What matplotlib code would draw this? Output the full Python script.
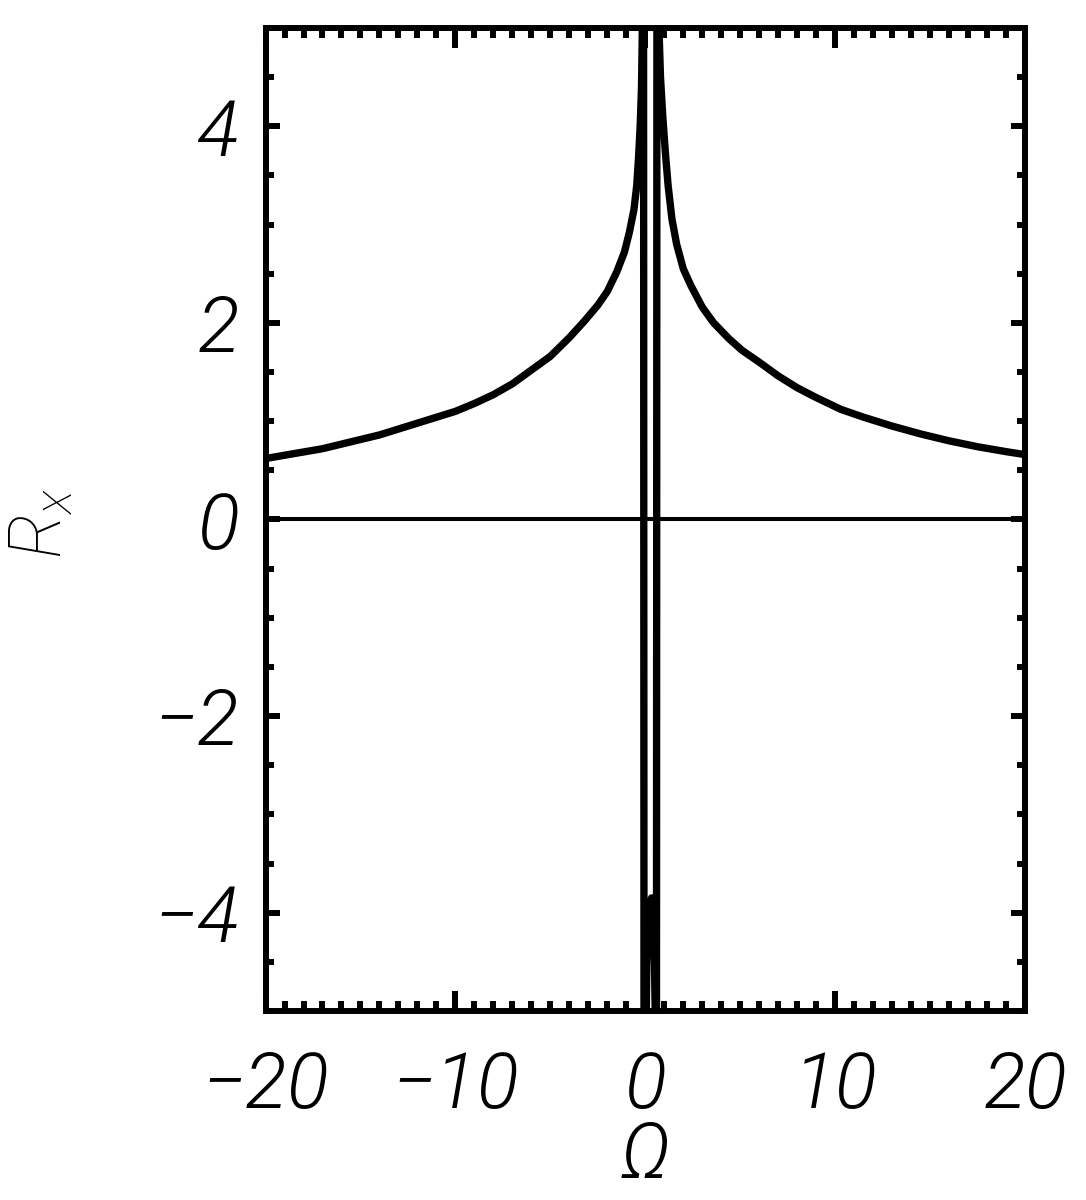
import matplotlib
matplotlib.use("Agg")
import matplotlib.pyplot as plt
from matplotlib.ticker import MultipleLocator, FixedLocator

# ---- data ----
omega = [-20, -18.5, -17, -15.5, -14, -12.5, -11, -10, -9, -8, -7, -6, -5, -4,
         -3.2, -2.5, -2.0, -1.5, -1.1, -0.84, -0.6, -0.45, -0.35, -0.27, -0.2,
         -0.14, -0.1,
         -0.06, 0.0, 0.08, 0.2, 0.33, 0.45, 0.52, 0.58,
         0.62, 0.66, 0.72, 0.8, 0.92, 1.05, 1.2, 1.4, 1.65, 2.0, 2.4, 3.0, 3.6,
         4.4, 5.1, 6.0, 7.0, 8.0, 9.0, 10.3, 11.5, 13, 14.5, 16, 17.5, 19, 20]
r_x = [0.62, 0.67, 0.72, 0.79, 0.86, 0.95, 1.04, 1.10, 1.18, 1.27, 1.38, 1.52,
       1.66, 1.85, 2.02, 2.18, 2.32, 2.52, 2.72, 2.92, 3.15, 3.40, 3.70, 4.00,
       4.40, 5.20, 9.0,
       -9.0, -6.0, -4.5, -3.95, -3.85, -4.1, -5.0, -9.0,
       9.0, 6.0, 5.0, 4.5, 4.1, 3.75, 3.4, 3.06, 2.8, 2.55, 2.38, 2.16, 2.0,
       1.84, 1.72, 1.6, 1.46, 1.34, 1.24, 1.12, 1.04, 0.95, 0.87, 0.80, 0.74,
       0.69, 0.66]

x_ticks = [-20, -10, 0, 10, 20]
x_ticklabels = ["\u221220", "\u221210", "0", "10", "20"]
y_ticks = [-4, -2, 0, 2, 4]
y_ticklabels = ["\u22124", "\u22122", "0", "2", "4"]
zero_level = 0

FONT = ["Roboto", "DejaVu Sans"]
plt.rcParams["mathtext.fontset"] = "custom"
plt.rcParams["mathtext.it"] = "Roboto:italic:light"
plt.rcParams["mathtext.rm"] = "Roboto:light"

fig = plt.figure(figsize=(10.86, 12), dpi=100)
ax = fig.add_axes([0.2445, 0.1575, 0.6994, 0.8192])

ax.plot(omega, r_x, color="black", lw=5.3, solid_joinstyle="round", zorder=3)
ax.axhline(zero_level, color="black", lw=2.9, zorder=2)

ax.set_xlim(-20, 20)
ax.set_ylim(-5, 5)

ax.xaxis.set_major_locator(FixedLocator(x_ticks))
ax.xaxis.set_minor_locator(MultipleLocator(1))
ax.yaxis.set_major_locator(FixedLocator(y_ticks))
ax.yaxis.set_minor_locator(MultipleLocator(0.5))
ax.set_xticklabels(x_ticklabels)
ax.set_yticklabels(y_ticklabels)

for s in ax.spines.values():
    s.set_linewidth(4.3)

ax.tick_params(axis="both", which="both", direction="in", top=True, right=True,
               width=4.3, color="black")
ax.tick_params(axis="x", which="major", length=14.4, pad=28)
ax.tick_params(axis="x", which="minor", length=7.2)
ax.tick_params(axis="y", which="major", length=10, pad=19)
ax.tick_params(axis="y", which="minor", length=5.8)

for lab in ax.get_xticklabels() + ax.get_yticklabels():
    lab.set_fontsize(56)
    lab.set_fontstyle("italic")
    lab.set_fontweight(300)
    lab.set_family(FONT)

fig.text(645 / 1086, 1 - 1178 / 1200, "\u03a9", fontsize=56, fontstyle="italic",
         fontweight=300, family=FONT, ha="center", va="baseline")
fig.text(42 / 1086, 1 - 523 / 1200, r"$R_x$", fontsize=52, rotation=90,
         ha="center", va="center")

fig.savefig("out.png", dpi=100, facecolor="white")
